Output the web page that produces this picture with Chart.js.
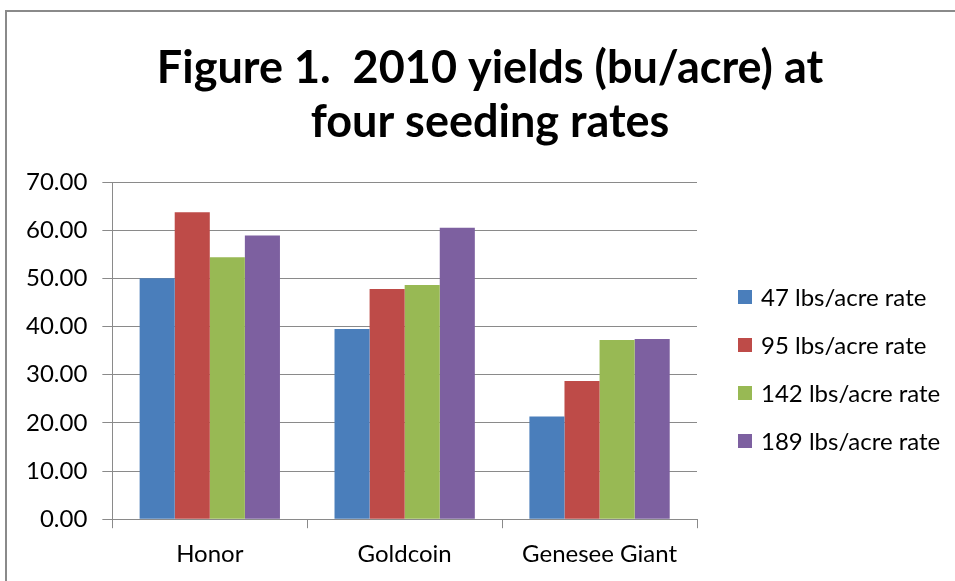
<!DOCTYPE html>
<html>
<head>
<meta charset="utf-8">
<script src="https://cdn.jsdelivr.net/npm/chart.js@4"></script>
<style>
  html, body { margin: 0; padding: 0; background: #fff; }
  #wrap { position: absolute; left: 0; top: 0; width: 955px; height: 581px; }
  #frame { position: absolute; left: 5px; top: 10px; width: 1000px; height: 600px;
           border-left: 2px solid #8a8a8a; border-top: 2px solid #8a8a8a; }
  canvas { position: absolute; left: 0; top: 0; }
</style>
</head>
<body>
<div id="wrap">
  <div id="frame"></div>
  <canvas id="yieldChart" width="955" height="581"></canvas>
</div>
<script>
// data
const varieties = ["Honor", "Goldcoin", "Genesee Giant"];
const rateNames = ["47 lbs/acre rate", "95 lbs/acre rate", "142 lbs/acre rate", "189 lbs/acre rate"];
const rate47 = [50.0, 39.5, 21.3];
const rate95 = [63.7, 47.8, 28.7];
const rate142 = [54.4, 48.6, 37.2];
const rate189 = [58.9, 60.5, 37.4];
const barColors = ["#4a7ebb", "#be4b48", "#98b954", "#7d60a0"];
const titleLines = ["Figure 1.  2010 yields (bu/acre) at", "four seeding rates"];

const seriesList = [rate47, rate95, rate142, rate189];
const ctx = document.getElementById("yieldChart").getContext("2d");

// title centred over the whole figure + legend on the right, like the original
const figureText = {
  id: "figureText",
  afterDraw(chart) {
    const c = chart.ctx;
    c.save();
    c.fillStyle = "#000";
    c.textAlign = "center";
    c.textBaseline = "middle";
    c.font = "bold 45px Lato";
    titleLines.forEach((t, i) => c.fillText(t, 490, 68 + i * 54));

    c.textAlign = "left";
    c.font = "24px Lato";
    chart.data.datasets.forEach((ds, i) => {
      const y = 297 + i * 48;
      c.fillStyle = ds.backgroundColor;
      c.fillRect(738, y - 7, 14, 14);
      c.fillStyle = "#000";
      c.fillText(ds.label, 761, y + 1);
    });
    c.restore();
  },
};

new Chart(ctx, {
  type: "bar",
  data: {
    labels: varieties,
    datasets: seriesList.map((vals, i) => ({
      label: rateNames[i],
      data: vals,
      backgroundColor: barColors[i],
      borderWidth: 0,
      categoryPercentage: 0.72,
      barPercentage: 1.0,
    })),
  },
  plugins: [figureText],
  options: {
    responsive: false,
    animation: false,
    layout: { padding: { left: 11, right: 258, top: 182, bottom: 0 } },
    plugins: {
      title: { display: false },
      legend: { display: false },
      tooltip: { enabled: false },
    },
    scales: {
      x: {
        grid: { display: true, drawOnChartArea: false, offset: true, color: "#8a8a8a", tickLength: 9 },
        border: { color: "#8a8a8a", width: 1 },
        ticks: { color: "#000", font: { family: "Lato", size: 24 }, padding: 12 },
      },
      y: {
        min: 0,
        max: 70,
        grid: { color: "#8a8a8a", lineWidth: 1, tickLength: 10 },
        border: { color: "#8a8a8a", width: 1 },
        ticks: {
          stepSize: 10,
          color: "#000",
          font: { family: "Lato", size: 24 },
          padding: 15,
          callback: (v) => v.toFixed(2),
        },
      },
    },
  },
});
</script>
</body>
</html>
